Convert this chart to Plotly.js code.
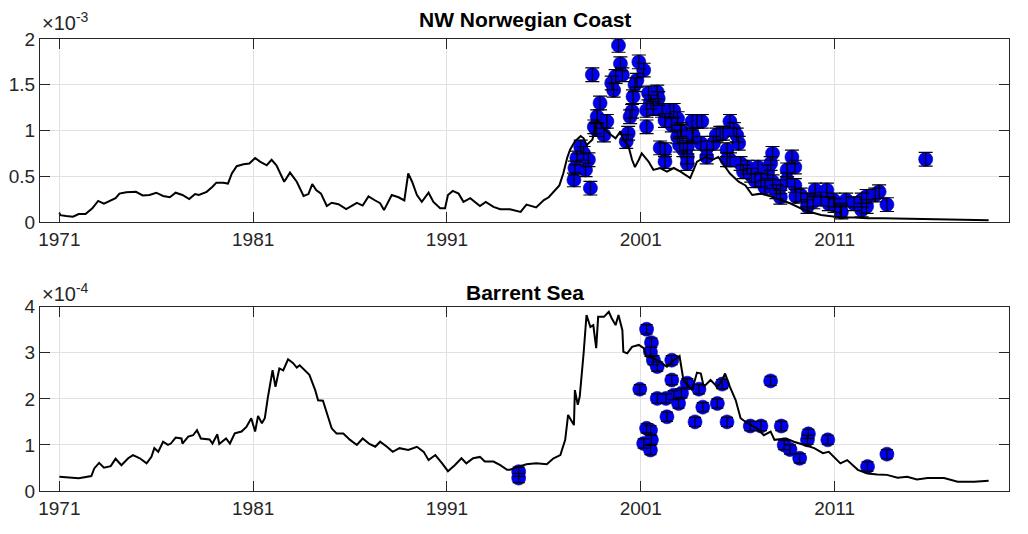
<!DOCTYPE html>
<html>
<head>
<meta charset="utf-8">
<script src="https://cdn.plot.ly/plotly-3.0.1.min.js"></script>
<style>html,body{margin:0;padding:0;background:#fff;}#chart{width:1028px;height:534px;}</style>
</head>
<body>
<div id="chart"></div>
<script>
// ---- Data (top panel values in units of 1e-3, bottom panel in units of 1e-4) ----
const tickYears = [1971, 1981, 1991, 2001, 2011];
const tickLabels = ['1971', '1981', '1991', '2001', '2011'];

// NW Norwegian Coast — model line (x1e-3)
const nwLineYears = [1971.0,1971.05,1971.35,1971.7,1972.0,1972.35,1972.7,1973.0,1973.3,1973.65,1973.9,1974.1,1974.45,1974.95,1975.3,1975.65,1976.0,1976.35,1976.7,1977.0,1977.35,1977.7,1978.0,1978.2,1978.6,1978.9,1979.1,1979.45,1979.7,1979.9,1980.15,1980.5,1980.8,1981.1,1981.35,1981.7,1981.95,1982.2,1982.45,1982.6,1982.9,1983.25,1983.6,1983.85,1984.05,1984.25,1984.5,1984.8,1985.05,1985.4,1985.8,1986.05,1986.35,1986.65,1986.95,1987.3,1987.55,1987.75,1987.95,1988.15,1988.5,1988.8,1989.0,1989.2,1989.45,1989.7,1990.05,1990.3,1990.65,1990.9,1991.05,1991.3,1991.6,1991.85,1992.2,1992.35,1992.7,1993.0,1993.4,1993.75,1994.25,1994.8,1995.1,1995.6,1996.0,1996.25,1996.5,1996.8,1997.0,1997.2,1997.35,1997.6,1997.9,1998.05,1998.2,1998.5,1998.75,1998.9,1999.1,1999.35,1999.7,1999.95,2000.1,2000.35,2000.55,2000.7,2000.9,2001.05,2001.4,2001.65,2002.0,2002.35,2002.7,2003.05,2003.55,2003.9,2004.35,2004.7,2005.0,2005.2,2005.6,2006.05,2006.4,2006.75,2007.2,2007.7,2008.2,2008.7,2009.25,2009.75,2010.3,2010.8,2011.35,2012.0,2012.7,2013.5,2014.5,2015.5,2016.5,2017.5,2018.95];
const nwLineVals = [0.10,0.075,0.066,0.058,0.087,0.087,0.15,0.23,0.20,0.24,0.26,0.31,0.325,0.33,0.29,0.295,0.32,0.285,0.27,0.32,0.295,0.25,0.305,0.295,0.33,0.385,0.43,0.43,0.42,0.53,0.61,0.63,0.64,0.70,0.66,0.62,0.68,0.62,0.495,0.44,0.54,0.44,0.285,0.305,0.415,0.35,0.31,0.175,0.21,0.195,0.14,0.175,0.21,0.18,0.28,0.235,0.205,0.13,0.22,0.295,0.27,0.235,0.53,0.44,0.295,0.22,0.32,0.22,0.15,0.15,0.295,0.34,0.31,0.22,0.26,0.235,0.175,0.22,0.165,0.14,0.14,0.11,0.19,0.16,0.24,0.27,0.33,0.40,0.53,0.70,0.79,0.88,0.94,0.915,0.84,0.90,1.11,1.08,1.02,0.97,0.915,0.99,0.90,0.84,0.68,0.60,0.68,0.75,0.66,0.57,0.59,0.55,0.59,0.55,0.48,0.66,0.71,0.68,0.71,0.65,0.53,0.44,0.40,0.295,0.31,0.28,0.24,0.205,0.15,0.11,0.077,0.066,0.05,0.05,0.04,0.04,0.035,0.03,0.025,0.022,0.018];

// NW Norwegian Coast — observations (x1e-3)
const nwObsYears = [1997.55,1997.6,1997.7,1997.9,1998.05,1998.15,1998.3,1998.4,1998.5,1998.6,1998.7,1998.75,1998.9,1999.1,1999.25,1999.5,1999.6,1999.7,1999.85,1999.95,2000.05,2000.25,2000.35,2000.45,2000.55,2000.6,2000.7,2000.8,2000.9,2001.15,2001.3,2001.3,2001.4,2001.5,2001.65,2001.85,2001.9,2002.0,2002.1,2002.25,2002.25,2002.25,2002.5,2002.6,2002.7,2002.9,2002.9,2003.0,2003.05,2003.1,2003.2,2003.4,2003.4,2003.4,2003.65,2003.65,2003.7,2003.9,2004.1,2004.15,2004.4,2004.4,2004.75,2004.9,2005.1,2005.25,2005.45,2005.45,2005.6,2005.6,2005.8,2005.95,2006.05,2006.15,2006.3,2006.5,2006.7,2006.9,2007.05,2007.2,2007.4,2007.55,2007.7,2007.8,2007.8,2008.0,2008.2,2008.2,2008.55,2008.55,2008.8,2008.95,2008.95,2009.0,2009.25,2009.6,2009.6,2009.9,2010.0,2010.3,2010.6,2010.7,2010.95,2011.0,2011.3,2011.35,2011.6,2012.0,2012.4,2012.4,2012.65,2012.65,2013.1,2013.3,2013.7,2015.7];
const nwObsVals = [0.46,0.59,0.70,0.82,0.75,0.57,0.68,0.37,1.61,1.04,1.01,1.15,1.30,0.95,1.10,1.52,1.44,1.59,1.93,1.73,1.61,0.88,0.97,1.15,1.21,1.37,1.50,1.55,1.75,1.66,1.22,1.04,1.41,1.31,1.24,1.42,1.35,0.81,1.22,0.79,0.66,1.11,1.22,1.06,1.22,1.13,0.93,0.84,1.01,0.99,0.79,0.71,0.64,0.82,1.10,0.93,0.95,1.10,0.86,1.10,0.81,0.71,0.86,0.95,0.97,0.97,0.79,0.68,1.10,0.68,1.01,0.95,0.86,0.64,0.55,0.60,0.51,0.45,0.60,0.46,0.38,0.55,0.64,0.75,0.44,0.33,0.385,0.27,0.46,0.57,0.71,0.60,0.40,0.28,0.295,0.24,0.17,0.22,0.35,0.25,0.35,0.20,0.24,0.18,0.13,0.11,0.24,0.20,0.24,0.13,0.28,0.17,0.295,0.33,0.19,0.685];
const nwObsErr = 0.075;

// Barrent Sea — model line (x1e-4)
const bsLineYears = [1971.0,1971.35,1972.0,1972.65,1972.8,1973.05,1973.3,1973.65,1973.9,1974.2,1974.55,1974.8,1975.15,1975.5,1975.75,1975.9,1976.1,1976.35,1976.6,1976.75,1977.0,1977.3,1977.35,1977.65,1977.9,1978.1,1978.3,1978.75,1978.9,1979.15,1979.25,1979.6,1979.8,1980.05,1980.4,1980.65,1980.9,1981.1,1981.25,1981.45,1981.6,1981.75,1982.0,1982.15,1982.35,1982.55,1982.8,1983.05,1983.25,1983.4,1983.65,1983.9,1984.2,1984.35,1984.6,1984.85,1985.05,1985.3,1985.65,1986.0,1986.35,1986.65,1987.0,1987.3,1987.55,1987.9,1988.2,1988.55,1989.0,1989.45,1989.8,1990.05,1990.4,1990.75,1991.05,1991.4,1991.75,1992.0,1992.35,1992.7,1992.95,1993.4,1993.75,1994.1,1994.25,1994.7,1995.1,1995.6,1996.15,1996.5,1996.85,1997.1,1997.25,1997.55,1997.6,1997.75,1997.85,1998.05,1998.2,1998.4,1998.55,1998.7,1998.8,1999.1,1999.35,1999.5,1999.7,1999.85,2000.05,2000.1,2000.3,2000.55,2000.9,2001.15,2001.3,2001.65,2002.0,2002.35,2002.7,2003.0,2003.2,2003.65,2003.9,2004.1,2004.25,2004.6,2004.95,2005.2,2005.35,2005.6,2005.9,2006.15,2006.5,2007.0,2007.35,2007.7,2007.9,2008.5,2008.9,2009.45,2009.95,2010.4,2010.7,2011.3,2011.65,2012.2,2012.7,2013.2,2013.7,2014.25,2014.75,2015.25,2015.8,2016.65,2017.35,2018.2,2018.95];
const bsLineVals = [0.31,0.30,0.275,0.325,0.49,0.61,0.505,0.54,0.70,0.56,0.71,0.78,0.71,0.60,0.74,0.93,0.85,1.07,1.00,1.03,1.16,1.14,1.03,1.18,1.21,1.32,1.14,1.12,1.03,1.23,1.02,1.14,1.03,1.25,1.29,1.39,1.58,1.29,1.63,1.47,1.58,2.01,2.62,2.26,2.66,2.62,2.86,2.78,2.68,2.73,2.62,2.52,2.19,1.97,1.96,1.61,1.36,1.25,1.25,1.11,1.00,1.14,1.02,0.96,1.07,0.96,0.85,0.93,0.89,0.96,0.85,0.67,0.78,0.60,0.43,0.56,0.71,0.60,0.71,0.74,0.64,0.64,0.56,0.46,0.46,0.53,0.58,0.60,0.58,0.71,0.78,1.11,1.65,1.43,2.19,1.87,2.05,2.99,3.82,3.56,3.60,3.10,3.78,3.78,3.89,3.75,3.60,3.82,3.49,3.02,2.99,3.13,3.17,3.10,2.92,2.88,2.80,2.70,2.84,2.93,2.41,2.19,2.57,2.55,2.26,2.41,2.26,2.41,2.55,2.26,1.97,1.58,1.47,1.36,1.21,1.29,1.11,1.14,1.07,1.00,0.93,0.82,0.85,0.60,0.67,0.46,0.38,0.36,0.35,0.29,0.31,0.25,0.28,0.28,0.20,0.20,0.22];

// Barrent Sea — observations (x1e-4)
const bsObsYears = [1994.7,1994.7,2000.95,2001.3,2001.55,2001.5,2001.65,2001.85,2002.6,2001.3,2001.5,2001.15,2001.55,2001.5,2002.6,2001.85,2002.3,2002.7,2003.1,2002.95,2002.35,2003.4,2004.0,2004.2,2003.8,2004.95,2005.2,2005.45,2007.7,2006.65,2007.2,2008.25,2008.4,2008.7,2009.2,2009.65,2009.6,2010.65,2012.7,2013.7];
const bsObsVals = [0.42,0.28,2.21,3.51,3.22,3.02,2.84,2.70,2.84,1.36,1.32,1.03,1.11,0.89,2.41,2.01,2.01,2.08,2.12,1.90,1.61,2.34,2.21,1.82,1.50,1.90,2.32,1.50,2.39,1.41,1.41,1.41,1.00,0.90,0.71,1.24,1.11,1.11,0.53,0.80];
const bsObsErr = 0.1;

// ---- Styling ----
const AX = '#262626';
const GRID = '#e1e1e1';
const BLUE = '#0000ee';

function xAxis(anchor) {
  return {
    anchor: anchor, domain: [0, 1], range: [1970, 2020],
    tickmode: 'array', tickvals: tickYears, ticktext: tickLabels,
    ticks: 'inside', ticklen: 10, tickwidth: 1, tickcolor: AX,
    showline: true, linecolor: AX, linewidth: 1, mirror: 'ticks',
    showgrid: true, gridcolor: GRID, gridwidth: 1, zeroline: false,
    tickfont: {size: 19, color: AX}
  };
}
function yAxis(anchor, domain, range, vals) {
  return {
    anchor: anchor, domain: domain, range: range,
    tickmode: 'array', tickvals: vals, ticktext: vals.map(String),
    ticks: 'inside', ticklen: 10, tickwidth: 1, tickcolor: AX,
    showline: true, linecolor: AX, linewidth: 1, mirror: 'ticks',
    showgrid: true, gridcolor: GRID, gridwidth: 1, zeroline: false,
    tickfont: {size: 19, color: AX}
  };
}

const traces = [
  {x: nwObsYears, y: nwObsVals, xaxis: 'x', yaxis: 'y', type: 'scatter', mode: 'markers',
   marker: {size: 14, color: BLUE, line: {width: 0.6, color: '#00008b'}}, hoverinfo: 'skip'},
  {x: nwObsYears, y: nwObsVals, xaxis: 'x', yaxis: 'y', type: 'scatter', mode: 'markers',
   marker: {size: 1, color: 'rgba(0,0,0,0)'},
   error_y: {type: 'constant', value: nwObsErr, color: '#000', thickness: 1.2, width: 7}, hoverinfo: 'skip'},
  {x: nwLineYears, y: nwLineVals, xaxis: 'x', yaxis: 'y', type: 'scatter', mode: 'lines',
   line: {color: '#000', width: 2}, hoverinfo: 'skip'},
  {x: bsObsYears, y: bsObsVals, xaxis: 'x2', yaxis: 'y2', type: 'scatter', mode: 'markers',
   marker: {size: 14, color: BLUE, line: {width: 0.6, color: '#00008b'}}, hoverinfo: 'skip'},
  {x: bsObsYears, y: bsObsVals, xaxis: 'x2', yaxis: 'y2', type: 'scatter', mode: 'markers',
   marker: {size: 1, color: 'rgba(0,0,0,0)'},
   error_y: {type: 'constant', value: bsObsErr, color: '#000', thickness: 1.2, width: 6}, hoverinfo: 'skip'},
  {x: bsLineYears, y: bsLineVals, xaxis: 'x2', yaxis: 'y2', type: 'scatter', mode: 'lines',
   line: {color: '#000', width: 2}, hoverinfo: 'skip'}
];

const H = 452; // plot-area height in px (534 - 39 - 43)
const layout = {
  width: 1028, height: 534,
  margin: {l: 40, r: 19, t: 39, b: 43, pad: 0},
  paper_bgcolor: '#fff', plot_bgcolor: '#fff',
  showlegend: false,
  font: {family: '"Liberation Sans", Arial, Helvetica, sans-serif', size: 19, color: AX},
  xaxis: xAxis('y'),
  yaxis: yAxis('x', [(491 - 222) / H, 1], [0, 2], [0, 0.5, 1, 1.5, 2]),
  xaxis2: xAxis('y2'),
  yaxis2: yAxis('x2', [0, (491 - 306.7) / H], [0, 4], [0, 1, 2, 3, 4]),
  annotations: [
    {text: '<b>NW Norwegian Coast</b>', xref: 'paper', yref: 'paper', x: 0.5, y: 1 + (39 - 20) / H,
     xanchor: 'center', yanchor: 'middle', showarrow: false, font: {size: 21, color: '#000'}},
    {text: '<b>Barrent Sea</b>', xref: 'paper', yref: 'paper', x: 0.5, y: (491 - 292) / H,
     xanchor: 'center', yanchor: 'middle', showarrow: false, font: {size: 21, color: '#000'}},
    {text: '×10<sup>-3</sup>', xref: 'paper', yref: 'paper', x: 0, y: 1 + (39 - 22) / H,
     xanchor: 'left', yanchor: 'middle', showarrow: false, font: {size: 20, color: AX}},
    {text: '×10<sup>-4</sup>', xref: 'paper', yref: 'paper', x: 0, y: (491 - 292) / H,
     xanchor: 'left', yanchor: 'middle', showarrow: false, font: {size: 20, color: AX}}
  ]
};

Plotly.newPlot('chart', traces, layout, {displayModeBar: false, staticPlot: true});
</script>
</body>
</html>
